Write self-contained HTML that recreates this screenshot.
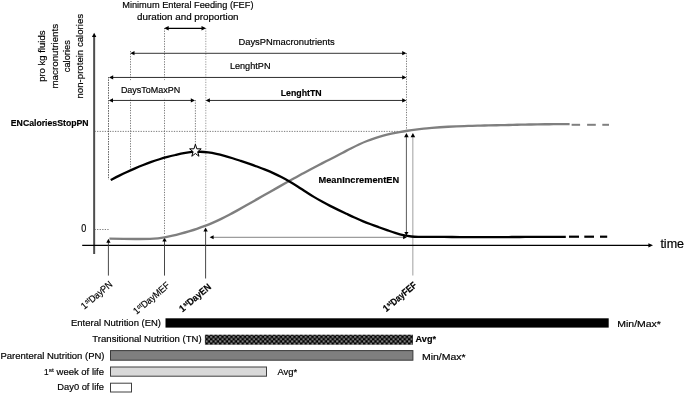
<!DOCTYPE html>
<html lang="en"><head><meta charset="utf-8"><title>Nutrition timeline diagram</title>
<style>
html,body{margin:0;padding:0;background:#fff;}
svg{display:block;font-family:"Liberation Sans",sans-serif;fill:#000;}
text{stroke:#000;stroke-width:0.18px;}
</style></head>
<body>
<svg width="685" height="394" viewBox="0 0 685 394">
<defs>
<pattern id="chk" x="205.6" y="335.8" width="4.5" height="4.5" patternUnits="userSpaceOnUse">
<rect width="4.5" height="4.5" fill="#000"/>
<rect x="0.1" y="0.1" width="2.05" height="2.05" fill="#858585"/>
<rect x="2.35" y="2.35" width="2.05" height="2.05" fill="#858585"/>
</pattern>
</defs>
<rect width="685" height="394" fill="#fff"/>
<line x1="108.5" y1="77" x2="108.5" y2="179.5" stroke="#5a5a5a" stroke-width="0.8" stroke-dasharray="1.28 1.28"/>
<line x1="130.5" y1="51" x2="130.5" y2="169" stroke="#5a5a5a" stroke-width="0.8" stroke-dasharray="1.28 1.28"/>
<line x1="164.5" y1="28" x2="164.5" y2="234" stroke="#5a5a5a" stroke-width="0.8" stroke-dasharray="1.28 1.28"/>
<line x1="205.8" y1="28" x2="205.8" y2="221.5" stroke="#858585" stroke-width="0.8" stroke-dasharray="1.28 1.28"/>
<line x1="195.4" y1="100" x2="195.4" y2="145" stroke="#5a5a5a" stroke-width="0.8" stroke-dasharray="1.28 1.28"/>
<line x1="406.5" y1="53" x2="406.5" y2="131.5" stroke="#5a5a5a" stroke-width="0.8" stroke-dasharray="1.28 1.28"/>
<line x1="94.5" y1="131.4" x2="398.5" y2="131.4" stroke="#5a5a5a" stroke-width="0.8" stroke-dasharray="1.28 1.28"/>
<line x1="94.5" y1="229.5" x2="108.8" y2="229.5" stroke="#5a5a5a" stroke-width="0.8" stroke-dasharray="1.28 1.28"/>
<rect x="113" y="80.2" width="78" height="18.3" fill="#fff"/>
<line x1="108.5" y1="77" x2="108.5" y2="179.5" stroke="#5a5a5a" stroke-width="0.8" stroke-dasharray="1.28 1.28"/>
<line x1="412.8" y1="135" x2="412.8" y2="275.5" stroke="#b5b5b5" stroke-width="1.3"/>
<line x1="94.15" y1="36" x2="94.15" y2="254" stroke="#4d4d4d" stroke-width="2.0"/>
<polygon points="94.15,32.80 91.95,36.90 96.35,36.90" fill="#000"/>
<line x1="82.2" y1="245.4" x2="650" y2="245.4" stroke="#000" stroke-width="1.25"/>
<polygon points="653.00,245.35 648.40,243.15 648.40,247.55" fill="#000"/>
<line x1="166" y1="28.3" x2="204" y2="28.3" stroke="#000" stroke-width="1.2"/>
<polygon points="164.10,28.30 168.70,26.10 168.70,30.50" fill="#000"/>
<polygon points="206.10,28.30 201.50,26.10 201.50,30.50" fill="#000"/>
<line x1="132" y1="53.3" x2="405" y2="53.3" stroke="#2a2a2a" stroke-width="0.95"/>
<polygon points="130.30,53.20 134.50,51.10 134.50,55.30" fill="#000"/>
<polygon points="406.40,53.20 402.20,51.10 402.20,55.30" fill="#000"/>
<line x1="110" y1="77.45" x2="405" y2="77.45" stroke="#222" stroke-width="0.95"/>
<polygon points="109.00,77.45 113.20,75.35 113.20,79.55" fill="#000"/>
<polygon points="406.40,77.45 402.20,75.35 402.20,79.55" fill="#000"/>
<line x1="110" y1="100.45" x2="194" y2="100.45" stroke="#222" stroke-width="0.95"/>
<polygon points="108.80,100.40 113.00,98.30 113.00,102.50" fill="#000"/>
<polygon points="195.00,100.40 190.80,98.30 190.80,102.50" fill="#000"/>
<line x1="207" y1="100.45" x2="405" y2="100.45" stroke="#222" stroke-width="0.95"/>
<polygon points="205.70,100.40 209.90,98.30 209.90,102.50" fill="#000"/>
<polygon points="406.40,100.40 402.20,98.30 402.20,102.50" fill="#000"/>
<line x1="211" y1="237.3" x2="404" y2="237.3" stroke="#777" stroke-width="0.9"/>
<polygon points="209.60,237.30 213.60,235.30 213.60,239.30" fill="#000"/>
<polygon points="406.90,237.30 403.10,235.30 403.10,239.30" fill="#000"/>
<line x1="406.4" y1="135" x2="406.4" y2="233" stroke="#4a4a4a" stroke-width="0.9"/>
<polygon points="406.40,133.00 404.10,137.20 408.70,137.20" fill="#000"/>
<polygon points="406.40,235.60 404.30,232.00 408.50,232.00" fill="#000"/>
<polygon points="412.90,133.00 410.60,137.20 415.20,137.20" fill="#000"/>
<line x1="108.4" y1="242" x2="108.4" y2="275.6" stroke="#333" stroke-width="0.9"/>
<polygon points="108.40,238.80 106.30,242.80 110.50,242.80" fill="#000"/>
<line x1="164.5" y1="240" x2="164.5" y2="275.6" stroke="#333" stroke-width="0.9"/>
<polygon points="164.50,237.60 162.30,241.60 166.70,241.60" fill="#000"/>
<line x1="205.6" y1="230" x2="205.6" y2="278.5" stroke="#333" stroke-width="0.9"/>
<polygon points="205.60,227.60 203.40,231.60 207.80,231.60" fill="#000"/>
<path d="M109.40,238.70 C113.67,238.75 128.23,238.97 135.00,239.00 C141.77,239.03 146.17,239.00 150.00,238.90 C153.83,238.80 155.58,238.64 158.00,238.40 C160.42,238.16 162.07,237.91 164.50,237.45 C166.93,237.00 169.90,236.32 172.60,235.68 C175.30,235.03 178.00,234.32 180.70,233.59 C183.40,232.86 186.11,232.10 188.81,231.30 C191.51,230.50 194.21,229.69 196.91,228.80 C199.61,227.90 202.31,226.97 205.01,225.94 C207.71,224.91 210.41,223.80 213.11,222.61 C215.81,221.43 218.51,220.16 221.21,218.85 C223.91,217.54 226.62,216.15 229.32,214.74 C232.02,213.32 234.72,211.85 237.42,210.36 C240.12,208.87 242.82,207.34 245.52,205.81 C248.22,204.28 250.92,202.73 253.62,201.18 C256.32,199.64 259.02,198.09 261.72,196.55 C264.42,195.01 267.13,193.48 269.83,191.94 C272.53,190.41 275.23,188.88 277.93,187.36 C280.63,185.84 283.33,184.32 286.03,182.81 C288.73,181.29 291.43,179.78 294.13,178.28 C296.83,176.79 299.53,175.29 302.23,173.82 C304.93,172.35 307.64,170.89 310.34,169.46 C313.04,168.02 315.74,166.62 318.44,165.22 C321.14,163.83 323.84,162.46 326.54,161.07 C329.24,159.69 331.94,158.32 334.64,156.93 C337.34,155.54 340.04,154.12 342.74,152.71 C345.44,151.30 348.15,149.83 350.85,148.46 C353.55,147.08 356.25,145.70 358.95,144.46 C361.65,143.22 364.35,142.06 367.05,141.00 C369.75,139.94 372.45,138.99 375.15,138.10 C377.85,137.22 380.55,136.43 383.25,135.70 C385.95,134.97 388.66,134.32 391.36,133.71 C394.06,133.11 396.76,132.57 399.46,132.08 C402.16,131.58 404.86,131.14 407.56,130.72 C410.26,130.31 412.96,129.93 415.66,129.59 C418.36,129.24 421.06,128.93 423.76,128.64 C426.46,128.36 429.17,128.11 431.87,127.87 C434.57,127.64 437.27,127.44 439.97,127.25 C442.67,127.07 445.37,126.91 448.07,126.76 C450.77,126.62 453.47,126.49 456.17,126.37 C458.87,126.26 461.57,126.16 464.27,126.07 C466.97,125.98 469.68,125.90 472.38,125.83 C475.08,125.75 477.78,125.69 480.48,125.62 C483.18,125.56 485.88,125.50 488.58,125.44 C491.28,125.37 493.98,125.31 496.68,125.25 C499.38,125.19 502.08,125.12 504.78,125.06 C507.48,125.00 510.19,124.94 512.89,124.88 C515.59,124.82 518.29,124.76 520.99,124.70 C523.69,124.65 526.39,124.59 529.09,124.54 C531.79,124.49 534.49,124.44 537.19,124.40 C539.89,124.35 542.59,124.31 545.29,124.28 C547.99,124.24 550.70,124.21 553.40,124.19 C556.10,124.16 558.80,124.14 561.50,124.13 C564.20,124.12 568.25,124.11 569.60,124.11" fill="none" stroke="#7f7f7f" stroke-width="2.35" stroke-linecap="butt"/>
<line x1="571.6" y1="124.8" x2="580.1" y2="124.8" stroke="#808080" stroke-width="2"/>
<line x1="587.1" y1="124.8" x2="595.8" y2="124.8" stroke="#808080" stroke-width="2"/>
<line x1="602.3" y1="124.8" x2="609.0" y2="124.8" stroke="#808080" stroke-width="2"/>
<path d="M110.70,180.00 C112.05,179.32 116.12,177.23 118.83,175.90 C121.54,174.57 124.24,173.27 126.95,172.01 C129.66,170.75 132.37,169.53 135.08,168.36 C137.79,167.19 140.50,166.06 143.21,164.99 C145.92,163.92 148.62,162.90 151.33,161.94 C154.04,160.98 156.75,160.08 159.46,159.24 C162.17,158.41 164.88,157.64 167.59,156.93 C170.30,156.21 173.01,155.58 175.71,154.95 C178.42,154.33 181.13,153.68 183.84,153.19 C186.55,152.69 189.26,152.20 191.97,151.97 C194.68,151.73 197.39,151.68 200.09,151.76 C202.80,151.84 205.51,152.10 208.22,152.45 C210.93,152.80 213.64,153.30 216.35,153.87 C219.06,154.43 221.77,155.12 224.47,155.85 C227.18,156.58 229.89,157.41 232.60,158.24 C235.31,159.08 238.02,159.98 240.73,160.87 C243.44,161.77 246.15,162.68 248.86,163.62 C251.56,164.56 254.27,165.51 256.98,166.52 C259.69,167.53 262.40,168.56 265.11,169.67 C267.82,170.78 270.53,171.92 273.24,173.16 C275.94,174.39 278.65,175.68 281.36,177.07 C284.07,178.46 286.78,179.93 289.49,181.50 C292.20,183.07 294.91,184.76 297.62,186.46 C300.32,188.17 303.03,189.99 305.74,191.72 C308.45,193.46 311.16,195.24 313.87,196.89 C316.58,198.53 319.29,200.09 322.00,201.59 C324.71,203.09 327.41,204.50 330.12,205.88 C332.83,207.26 335.54,208.58 338.25,209.89 C340.96,211.20 343.67,212.48 346.38,213.76 C349.09,215.04 351.79,216.34 354.50,217.56 C357.21,218.78 359.92,219.99 362.63,221.11 C365.34,222.23 368.05,223.27 370.76,224.29 C373.47,225.31 376.17,226.27 378.88,227.24 C381.59,228.20 384.30,229.16 387.01,230.10 C389.72,231.04 392.43,232.02 395.14,232.86 C397.85,233.69 400.56,234.52 403.26,235.13 C405.97,235.74 408.68,236.21 411.39,236.50 C414.10,236.79 416.81,236.80 419.52,236.86 C422.23,236.91 424.94,236.83 427.64,236.82 C430.35,236.82 433.06,236.83 435.77,236.84 C438.48,236.86 441.19,236.89 443.90,236.91 C446.61,236.94 449.32,236.97 452.02,236.99 C454.73,237.01 457.44,237.03 460.15,237.05 C462.86,237.06 465.57,237.07 468.28,237.08 C470.99,237.09 473.70,237.09 476.41,237.09 C479.11,237.10 481.82,237.10 484.53,237.09 C487.24,237.09 489.95,237.09 492.66,237.08 C495.37,237.07 498.08,237.07 500.79,237.06 C503.49,237.05 506.20,237.04 508.91,237.03 C511.62,237.02 514.33,237.01 517.04,237.00 C519.75,236.99 522.46,236.97 525.17,236.96 C527.88,236.95 530.58,236.94 533.29,236.94 C536.00,236.93 538.71,236.92 541.42,236.91 C544.13,236.91 546.84,236.90 549.55,236.90 C552.26,236.90 554.96,236.90 557.67,236.90 C560.38,236.90 564.45,236.91 565.80,236.92" fill="none" stroke="#000" stroke-width="2.3" stroke-linecap="butt"/>
<line x1="569" y1="236.7" x2="579" y2="236.7" stroke="#000" stroke-width="2.2"/>
<line x1="584.3" y1="236.7" x2="594" y2="236.7" stroke="#000" stroke-width="2.2"/>
<line x1="600" y1="236.7" x2="607.2" y2="236.7" stroke="#000" stroke-width="2.2"/>
<polygon points="195.40,144.25 196.80,148.80 201.20,148.85 197.66,151.70 198.99,156.28 195.40,153.49 191.81,156.28 193.14,151.70 189.60,148.85 194.00,148.80" fill="#fff" stroke="#000" stroke-width="1" stroke-linejoin="miter"/>
<text x="122.2" y="8.1" font-size="9.6" textLength="131.3" lengthAdjust="spacingAndGlyphs" text-anchor="start">Minimum Enteral Feeding (FEF)</text>
<text x="137.0" y="20.4" font-size="9.6" textLength="101.6" lengthAdjust="spacingAndGlyphs" text-anchor="start">duration and proportion</text>
<text x="238.4" y="44.7" font-size="9.6" textLength="96.4" lengthAdjust="spacingAndGlyphs" text-anchor="start">DaysPNmacronutrients</text>
<text x="229.9" y="68.9" font-size="9.6" textLength="40.6" lengthAdjust="spacingAndGlyphs" text-anchor="start">LenghtPN</text>
<text x="120.9" y="92.6" font-size="9.6" textLength="59.3" lengthAdjust="spacingAndGlyphs" text-anchor="start">DaysToMaxPN</text>
<text x="280.7" y="95.7" font-size="9.6" textLength="41.0" lengthAdjust="spacingAndGlyphs" text-anchor="start" font-weight="bold">LenghtTN</text>
<text x="10.8" y="126.0" font-size="9.6" textLength="77.8" lengthAdjust="spacingAndGlyphs" text-anchor="start" font-weight="bold">ENCaloriesStopPN</text>
<text x="318.5" y="183.1" font-size="9.6" textLength="80.7" lengthAdjust="spacingAndGlyphs" text-anchor="start" font-weight="bold">MeanIncrementEN</text>
<text x="81.3" y="232" font-size="10.0" textLength="5.0" lengthAdjust="spacingAndGlyphs" text-anchor="start">0</text>
<text x="660.4" y="248.1" font-size="12.2" textLength="23.7" lengthAdjust="spacingAndGlyphs" text-anchor="start">time</text>
<g transform="translate(45.4,56.2) rotate(-90)">
<text x="-25.65" y="0" font-size="9.6" textLength="51.3" lengthAdjust="spacingAndGlyphs" text-anchor="start">pro kg fluids</text>
</g>
<g transform="translate(57.9,56.2) rotate(-90)">
<text x="-32.35" y="0" font-size="9.6" textLength="64.7" lengthAdjust="spacingAndGlyphs" text-anchor="start">macronutrients</text>
</g>
<g transform="translate(70.3,56.2) rotate(-90)">
<text x="-16.1" y="0" font-size="9.6" textLength="32.2" lengthAdjust="spacingAndGlyphs" text-anchor="start">calories</text>
</g>
<g transform="translate(82.8,56.2) rotate(-90)">
<text x="-42.3" y="0" font-size="9.6" textLength="84.6" lengthAdjust="spacingAndGlyphs" text-anchor="start">non-protein calories</text>
</g>
<g transform="translate(113.2,285.4) rotate(-40)">
<text x="-37.7" y="0" font-size="9.6" textLength="4.9" lengthAdjust="spacingAndGlyphs" text-anchor="start">1</text>
<text x="-32.50000000000001" y="-3.0" font-size="6.0" textLength="4.7" lengthAdjust="spacingAndGlyphs" text-anchor="start">st</text>
<text x="-27.8" y="0" font-size="9.6" textLength="27.8" lengthAdjust="spacingAndGlyphs" text-anchor="start">DayPN</text>
</g>
<g transform="translate(170.5,286.4) rotate(-40)">
<text x="-44.3" y="0" font-size="9.6" textLength="4.9" lengthAdjust="spacingAndGlyphs" text-anchor="start">1</text>
<text x="-39.1" y="-3.0" font-size="6.0" textLength="4.7" lengthAdjust="spacingAndGlyphs" text-anchor="start">st</text>
<text x="-34.4" y="0" font-size="9.6" textLength="34.4" lengthAdjust="spacingAndGlyphs" text-anchor="start">DayMEF</text>
</g>
<g transform="translate(211.8,287.9) rotate(-40)">
<text x="-38.1" y="0" font-size="9.6" textLength="4.9" lengthAdjust="spacingAndGlyphs" text-anchor="start" font-weight="bold">1</text>
<text x="-32.900000000000006" y="-3.0" font-size="6.0" textLength="4.7" lengthAdjust="spacingAndGlyphs" text-anchor="start" font-weight="bold">st</text>
<text x="-28.2" y="0" font-size="9.6" textLength="28.2" lengthAdjust="spacingAndGlyphs" text-anchor="start" font-weight="bold">DayEN</text>
</g>
<g transform="translate(417.3,286.2) rotate(-40)">
<text x="-40.7" y="0" font-size="9.6" textLength="4.9" lengthAdjust="spacingAndGlyphs" text-anchor="start" font-weight="bold">1</text>
<text x="-35.50000000000001" y="-3.0" font-size="6.0" textLength="4.7" lengthAdjust="spacingAndGlyphs" text-anchor="start" font-weight="bold">st</text>
<text x="-30.8" y="0" font-size="9.6" textLength="30.8" lengthAdjust="spacingAndGlyphs" text-anchor="start" font-weight="bold">DayFEF</text>
</g>
<rect x="165.5" y="318.3" width="443.2" height="9.3" fill="#000"/>
<rect x="204.9" y="334.7" width="208.1" height="10.0" fill="url(#chk)"/>
<rect x="110.5" y="350.6" width="302.4" height="9.6" fill="#7f7f7f" stroke="#3a3a3a" stroke-width="1"/>
<rect x="110.5" y="367.0" width="156.0" height="9.2" fill="#d9d9d9" stroke="#404040" stroke-width="1"/>
<rect x="110.5" y="383.2" width="21.0" height="8.8" fill="#fff" stroke="#404040" stroke-width="1"/>
<text x="71.0" y="325.7" font-size="9.6" textLength="90.0" lengthAdjust="spacingAndGlyphs" text-anchor="start">Enteral Nutrition (EN)</text>
<text x="92.3" y="342.1" font-size="9.6" textLength="109.3" lengthAdjust="spacingAndGlyphs" text-anchor="start">Transitional Nutrition (TN)</text>
<text x="0.5" y="359.0" font-size="9.6" textLength="104.0" lengthAdjust="spacingAndGlyphs" text-anchor="start">Parenteral Nutrition (PN)</text>
<text x="43.9" y="374.8" font-size="9.6" textLength="4.6" lengthAdjust="spacingAndGlyphs" text-anchor="start">1</text>
<text x="48.8" y="371.8" font-size="6.0" textLength="5.0" lengthAdjust="spacingAndGlyphs" text-anchor="start">st</text>
<text x="56.6" y="374.8" font-size="9.6" textLength="47.4" lengthAdjust="spacingAndGlyphs" text-anchor="start">week of life</text>
<text x="57.3" y="390.4" font-size="9.6" textLength="46.7" lengthAdjust="spacingAndGlyphs" text-anchor="start">Day0 of life</text>
<text x="617.3" y="327.0" font-size="9.6" textLength="43.6" lengthAdjust="spacingAndGlyphs" text-anchor="start">Min/Max*</text>
<text x="415.6" y="342.2" font-size="9.6" textLength="20.4" lengthAdjust="spacingAndGlyphs" text-anchor="start" font-weight="bold">Avg*</text>
<text x="422.0" y="360.3" font-size="9.6" textLength="43.6" lengthAdjust="spacingAndGlyphs" text-anchor="start">Min/Max*</text>
<text x="277.4" y="374.7" font-size="9.6" textLength="19.8" lengthAdjust="spacingAndGlyphs" text-anchor="start">Avg*</text>
</svg>
</body></html>
